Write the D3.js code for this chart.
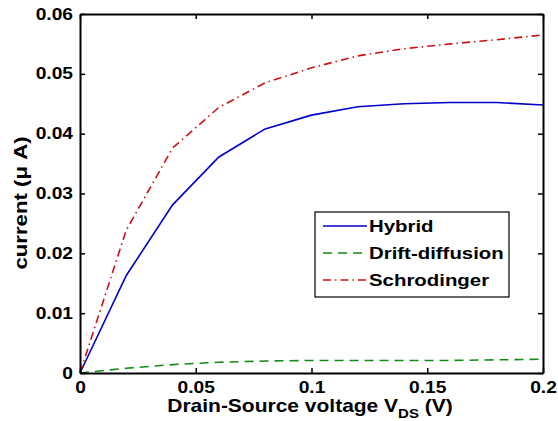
<!DOCTYPE html>
<html>
<head>
<meta charset="utf-8">
<script src="https://cdn.jsdelivr.net/npm/d3@7"></script>
<style>
  body { margin: 0; background: #fff; }
  text { font-family: "Liberation Sans", Arial, sans-serif; font-weight: bold; fill: #000; }
</style>
</head>
<body>
<script>
// data
var vds = [0, 0.02, 0.04, 0.06, 0.08, 0.1, 0.12, 0.14, 0.16, 0.18, 0.2];
var hybrid = [0, 0.0163, 0.0281, 0.0361, 0.0408, 0.0431, 0.0445, 0.0450, 0.0452, 0.0452, 0.0448];
var drift = [0, 0.0008, 0.0014, 0.0018, 0.0020, 0.0021, 0.0021, 0.0021, 0.0021, 0.0022, 0.0023];
var schro = [0, 0.0239, 0.0376, 0.0444, 0.0485, 0.0510, 0.0530, 0.0542, 0.0550, 0.0557, 0.0565];
var seriesNames = ["Hybrid", "Drift-diffusion", "Schrodinger"];
var xTicks = [0, 0.05, 0.1, 0.15, 0.2];
var xTickLabels = ["0", "0.05", "0.1", "0.15", "0.2"];
var yTicks = [0, 0.01, 0.02, 0.03, 0.04, 0.05, 0.06];
var yTickLabels = ["0", "0.01", "0.02", "0.03", "0.04", "0.05", "0.06"];

var width = 558, height = 421;
var plotLeft = 80, plotRight = 543, plotTop = 14, plotBottom = 373;
var stretch = 1.2; // the original text is wider than plain Arial

var svg = d3.select("body").append("svg").attr("width", width).attr("height", height);

var x = d3.scaleLinear().domain([0, 0.2]).range([plotLeft, plotRight]);
var y = d3.scaleLinear().domain([0, 0.06]).range([plotBottom, plotTop]);

var series = [
    {name: seriesNames[0], values: hybrid, color: "#0000cc", dash: null},
    {name: seriesNames[1], values: drift, color: "#138a13", dash: "9,6"},
    {name: seriesNames[2], values: schro, color: "#cc1111", dash: "8,4,1.5,4"}
];

var line = d3.line()
    .x(function (d, i) { return x(vds[i]); })
    .y(function (d) { return y(d); });

// lines
series.forEach(function (s) {
    svg.append("path")
        .datum(s.values)
        .attr("fill", "none")
        .attr("stroke", s.color)
        .attr("stroke-width", 1.6)
        .attr("stroke-dasharray", s.dash)
        .attr("d", line);
});

// axes (matlab style, ticks inside)
var xAxis = svg.append("g")
    .attr("transform", "translate(0," + plotBottom + ")")
    .call(d3.axisBottom(x).tickValues(xTicks).tickFormat(function (d, i) { return xTickLabels[i]; })
        .tickSizeInner(-5).tickSizeOuter(0).tickPadding(9));
var yAxis = svg.append("g")
    .attr("transform", "translate(" + plotLeft + ",0)")
    .call(d3.axisLeft(y).tickValues(yTicks).tickFormat(function (d, i) { return yTickLabels[i]; })
        .tickSizeInner(-5).tickSizeOuter(0).tickPadding(7));

svg.append("g")
    .attr("transform", "translate(0," + plotTop + ")")
    .call(d3.axisTop(x).tickValues(xTicks).tickFormat("").tickSizeInner(-5).tickSizeOuter(0));
svg.append("g")
    .attr("transform", "translate(" + plotRight + ",0)")
    .call(d3.axisRight(y).tickValues(yTicks).tickFormat("").tickSizeInner(-5).tickSizeOuter(0));

svg.selectAll(".domain").attr("stroke", "#000").attr("stroke-width", 2);
svg.selectAll(".tick line").attr("stroke", "#000").attr("stroke-width", 1.5);

xAxis.selectAll("text")
    .style("font-size", "16px")
    .attr("font-family", null)
    .attr("transform", "scale(" + stretch + ",1)");
yAxis.selectAll("text")
    .style("font-size", "16px")
    .attr("font-family", null)
    .attr("x", -7 / stretch)
    .attr("transform", "scale(" + stretch + ",1)");

// axis labels
var xl = svg.append("text")
    .attr("transform", "translate(310,412) scale(" + stretch + ",1)")
    .attr("text-anchor", "middle")
    .style("font-size", "17.5px");
xl.append("tspan").text("Drain-Source voltage V");
xl.append("tspan").attr("dy", 6).style("font-size", "12.5px").text("DS");
xl.append("tspan").attr("dy", -6).text(" (V)");

svg.append("text")
    .attr("transform", "translate(27,203) rotate(-90) scale(" + stretch + ",1)")
    .attr("text-anchor", "middle")
    .style("font-size", "18.5px")
    .text("current (\u03bc A)");

// legend
var legend = svg.append("g");
legend.append("rect")
    .attr("x", 315).attr("y", 212)
    .attr("width", 194).attr("height", 85)
    .attr("fill", "#fff").attr("stroke", "#000").attr("stroke-width", 1.2);

series.forEach(function (s, i) {
    var ly = 226 + i * 27;
    legend.append("line")
        .attr("x1", 323).attr("x2", 367)
        .attr("y1", ly).attr("y2", ly)
        .attr("stroke", s.color)
        .attr("stroke-width", 1.6)
        .attr("stroke-dasharray", s.dash);
    legend.append("text")
        .attr("transform", "translate(369," + (ly + 6) + ") scale(" + stretch + ",1)")
        .style("font-size", "17px")
        .text(s.name);
});
</script>
</body>
</html>
